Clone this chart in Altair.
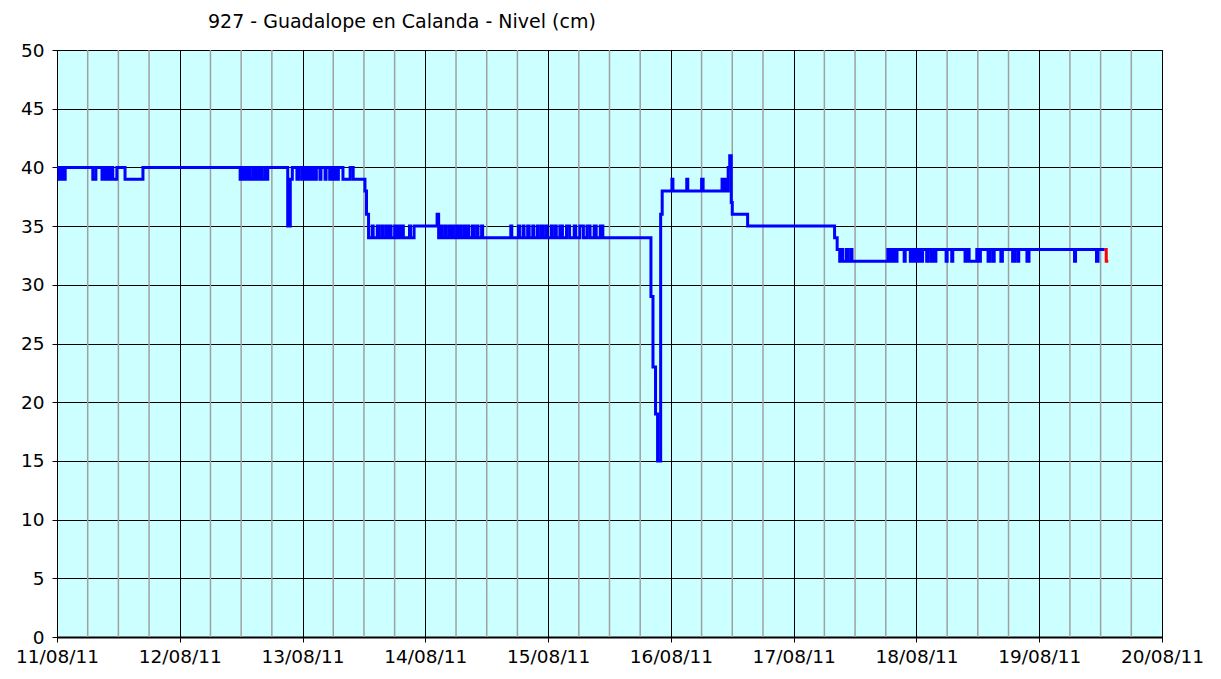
import json
import altair as alt
import pandas as pd

title_text = "927 - Guadalope en Calanda - Nivel (cm)"
day_labels = ["11/08/11", "12/08/11", "13/08/11", "14/08/11", "15/08/11",
              "16/08/11", "17/08/11", "18/08/11", "19/08/11", "20/08/11"]
day_hours = [0, 24, 48, 72, 96, 120, 144, 168, 192, 216]
minor_hours = [h for h in range(6, 216, 6) if h % 24 != 0]
y_ticks = [0, 5, 10, 15, 20, 25, 30, 35, 40, 45, 50]

# hours since 11/08/11 00:00 (step changes)
blue_hours = [
    0.0, 0.4, 0.7, 0.9, 1.2, 1.3, 1.6, 7.0, 7.6, 8.8, 9.3, 9.5, 9.9, 10.0, 10.4,
    10.9, 11.7, 13.3, 16.8, 35.8, 36.2, 36.4, 36.8, 37.0, 37.5, 37.7, 38.3, 38.6,
    39.1, 39.3, 39.8, 40.0, 40.6, 40.8, 41.2, 45.1, 45.6, 46.0, 46.9, 47.3, 47.9,
    48.2, 48.6, 48.8, 49.2, 49.5, 49.8, 50.1, 50.5, 50.7, 51.4, 51.6, 52.4, 52.6,
    53.3, 53.5, 54.0, 54.2, 54.6, 55.0, 55.9, 57.3, 57.9, 60.2, 60.5, 60.9, 61.6,
    61.8, 62.6, 62.9, 63.5, 63.7, 64.3, 64.6, 65.1, 65.3, 66.0, 66.3, 66.8, 67.0,
    67.5, 67.7, 68.9, 69.1, 69.8, 74.3, 74.6, 75.0, 75.2, 75.8, 76.0, 76.6, 76.8,
    77.3, 77.5, 78.1, 78.3, 78.8, 79.0, 79.6, 79.8, 80.3, 80.5, 81.2, 81.5, 82.1,
    82.3, 83.0, 83.2, 88.7, 88.9, 90.2, 90.4, 91.1, 91.3, 92.0, 92.3, 93.0, 93.2,
    93.9, 94.1, 94.7, 95.0, 95.6, 95.8, 96.6, 96.8, 97.4, 97.6, 98.3, 98.8, 99.6,
    100.2, 101.1, 101.4, 102.2, 102.9, 103.6, 104.2, 105.0, 105.4, 106.2, 106.7,
    116.1, 116.5, 117.0, 117.4, 118.0, 118.3, 120.2, 120.4, 123.1, 123.3, 126.0,
    126.3, 130.0, 130.3, 130.6, 131.0, 131.2, 131.5, 131.8, 132.0, 135.0, 152.0,
    152.5, 153.0, 153.4, 153.6, 154.3, 154.6, 155.2, 155.4, 162.4, 162.7, 163.0,
    163.3, 163.6, 163.9, 164.2, 165.6, 165.8, 166.8, 167.1, 167.5, 167.8, 168.2,
    168.5, 168.9, 169.2, 170.0, 170.2, 170.8, 171.0, 171.5, 171.8, 173.8, 174.0,
    174.9, 175.1, 177.5, 177.8, 178.3, 179.8, 180.2, 180.5, 182.0, 182.3, 182.9,
    183.2, 184.5, 184.8, 186.8, 187.2, 187.8, 188.0, 189.6, 190.0, 198.9, 199.1,
    203.2, 203.5, 204.8,
]
blue_level = [
    40, 39, 40, 39, 40, 39, 40, 39, 40, 39, 40, 39, 40, 39, 40,
    39, 40, 39, 40, 39, 40, 39, 40, 39, 40, 39, 40, 39,
    40, 39, 40, 39, 40, 39, 40, 35, 39, 40, 39, 40, 39,
    40, 39, 40, 39, 40, 39, 40, 39, 40, 39, 40, 39, 40,
    39, 40, 39, 40, 39, 40, 39, 40, 39, 38, 36, 34, 35,
    34, 35, 34, 35, 34, 35, 34, 35, 34, 35, 34, 35, 34,
    35, 34, 35, 34, 35, 36, 34, 35, 34, 35, 34, 35, 34,
    35, 34, 35, 34, 35, 34, 35, 34, 35, 34, 35, 34, 35,
    34, 35, 34, 35, 34, 35, 34, 35, 34, 35, 34, 35, 34,
    35, 34, 35, 34, 35, 34, 35, 34, 35, 34, 35, 34, 35,
    34, 35, 34, 35, 34, 35, 34, 35, 34, 35, 34,
    29, 23, 19, 15, 36, 38, 39, 38, 39, 38, 39,
    38, 39, 38, 39, 38, 40, 41, 37, 36, 35, 34,
    33, 32, 33, 32, 33, 32, 33, 32, 33, 32, 33,
    32, 33, 32, 33, 32, 33, 32, 33, 32, 33, 32,
    33, 32, 33, 32, 33, 32, 33, 32, 33, 32, 33,
    32, 33, 32, 33, 32, 33, 32, 33, 32, 33, 32,
    33, 32, 33, 32, 33, 32, 33, 32, 33, 32, 33,
    32, 33, 33,
]
red_hours = [204.8, 205.1, 205.5]
red_level = [33, 32, 32]

blue_df = pd.DataFrame({"h": blue_hours, "v": blue_level})
red_df = pd.DataFrame({"h": red_hours, "v": red_level})
minor_df = pd.DataFrame({"h": minor_hours})

label_expr = json.dumps(day_labels) + "[round(datum.value / 24)]"

x_scale = alt.Scale(domain=[0, 216], nice=False, zero=False)
y_scale = alt.Scale(domain=[0, 50], nice=False)

x_axis = alt.Axis(values=day_hours, labelExpr=label_expr, grid=True,
                  gridColor="black", gridWidth=1, tickSize=5, tickColor="black",
                  domainColor="black", domainWidth=2, labelPadding=5,
                  labelFlush=False, labelOverlap=False,
                  labelFont="DejaVu Sans", labelFontSize=18.5, labelColor="black")
y_axis = alt.Axis(values=y_ticks, grid=True, gridColor="black", gridWidth=1,
                  tickSize=5, tickColor="black", domainColor="black",
                  labelPadding=8, labelFont="DejaVu Sans", labelFontSize=18.5,
                  labelColor="black")

minor = alt.Chart(minor_df).mark_rule(color="#a0a0a0", strokeWidth=1.5).encode(
    x=alt.X("h:Q", scale=x_scale, axis=x_axis, title=None)
)

blue = alt.Chart(blue_df).mark_line(color="#0000ff", strokeWidth=3,
                                    interpolate="step-after").encode(
    x=alt.X("h:Q", scale=x_scale, axis=x_axis, title=None),
    y=alt.Y("v:Q", scale=y_scale, axis=y_axis, title=None),
)

red = alt.Chart(red_df).mark_line(color="#ff0000", strokeWidth=3,
                                  interpolate="step-after").encode(
    x=alt.X("h:Q", scale=x_scale, axis=x_axis, title=None),
    y=alt.Y("v:Q", scale=y_scale, axis=y_axis, title=None),
)

chart = alt.layer(minor, blue, red).properties(
    width=1105,
    height=587,
    background="white",
    title=alt.TitleParams(title_text, anchor="start", frame="group", dx=151,
                          offset=9, font="DejaVu Sans", fontSize=19,
                          fontWeight="normal", color="black"),
    autosize=alt.AutoSizeParams(type="none"),
    padding={"left": 49, "top": 42, "right": 51, "bottom": 34},
).configure_view(
    fill="#ccffff", stroke="black", strokeWidth=1
)

chart.save("out.html", embed_options={"renderer": "svg", "actions": False})
